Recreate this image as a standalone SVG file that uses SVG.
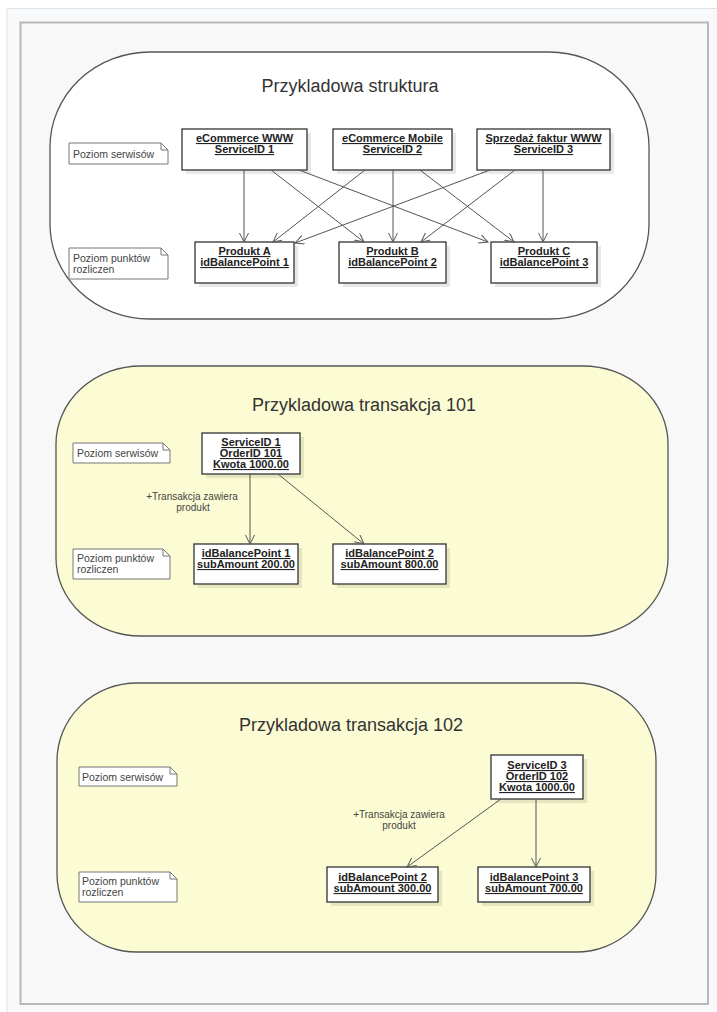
<svg xmlns="http://www.w3.org/2000/svg" width="717" height="1012" viewBox="0 0 717 1012">
<style>
.blk{stroke:#555;stroke-width:1.3}
.box{fill:#fff;stroke:#333;stroke-width:1.3}
.shd{fill:#000;opacity:0.09}
.bt{font-family:"Liberation Sans",Arial,sans-serif;font-size:11px;font-weight:bold;fill:#222;text-anchor:middle;text-decoration:underline}
.nt{font-family:"Liberation Sans",Arial,sans-serif;font-size:10.5px;fill:#444}
.note{fill:#fff;stroke:#777;stroke-width:1}
.fold{fill:none;stroke:#777;stroke-width:1}
.ttl{font-family:"Liberation Sans",Arial,sans-serif;font-size:18px;fill:#333;text-anchor:middle}
.lbl{font-family:"Liberation Sans",Arial,sans-serif;font-size:10px;fill:#444;text-anchor:middle}
.edge{stroke:#555;stroke-width:1;fill:none;marker-end:url(#arr)}
</style>
<defs>
<marker id="arr" markerUnits="userSpaceOnUse" markerWidth="12" markerHeight="12" refX="9" refY="4.5" orient="auto">
<path d="M0,0 L9,4.5 L0,9" fill="none" stroke="#555" stroke-width="1"/>
</marker>
</defs>
<rect x="0" y="0" width="717" height="1012" fill="#fff"/>
<rect x="7" y="8.5" width="712" height="1010" fill="#f8f9fa" stroke="#dfe3e8" stroke-width="1"/>
<rect x="20.5" y="22.5" width="687.5" height="981.5" fill="#f8f8f8" stroke="#b8b8b8" stroke-width="2"/>

<!-- Block 1 -->
<g id="block-struktura">
<rect class="blk" x="50" y="52" width="599" height="267" rx="100" ry="95" fill="#fff"/>
<text class="ttl" x="350" y="92" font-size="18.5">Przykladowa struktura</text>
</g>
<g id="note-serwisow-1">
<path class="note" d="M69,143 H161 L168,150 V164 H69 Z"/><path class="fold" d="M161,143 V150 H168"/>
<text class="nt" x="73" y="158">Poziom serwisów</text>
</g>
<g id="note-punktow-1">
<path class="note" d="M69,248 H161 L168,255 V279 H69 Z"/><path class="fold" d="M161,248 V255 H168"/>
<text class="nt" x="73" y="262">Poziom punktów</text>
<text class="nt" x="73" y="273">rozliczen</text>
</g>
<g id="svc1">
<rect class="shd" x="186" y="133" width="125" height="41"/>
<rect class="box" x="182" y="129" width="125" height="41"/>
<text class="bt" x="244.5" y="142">eCommerce WWW</text>
<text class="bt" x="244.5" y="153">ServiceID 1</text>
</g>
<g id="svc2">
<rect class="shd" x="337" y="133" width="119" height="41"/>
<rect class="box" x="333" y="129" width="119" height="41"/>
<text class="bt" x="392.5" y="142">eCommerce Mobile</text>
<text class="bt" x="392.5" y="153">ServiceID 2</text>
</g>
<g id="svc3">
<rect class="shd" x="481" y="133" width="133" height="41"/>
<rect class="box" x="477" y="129" width="133" height="41"/>
<text class="bt" x="543.5" y="142">Sprzedaż faktur WWW</text>
<text class="bt" x="543.5" y="153">ServiceID 3</text>
</g>
<g id="prodA">
<rect class="shd" x="199" y="246" width="99" height="41"/>
<rect class="box" x="195" y="242" width="99" height="41"/>
<text class="bt" x="244.5" y="255">Produkt A</text>
<text class="bt" x="244.5" y="266">idBalancePoint 1</text>
</g>
<g id="prodB">
<rect class="shd" x="343" y="246" width="107" height="41"/>
<rect class="box" x="339" y="242" width="107" height="41"/>
<text class="bt" x="392.5" y="255">Produkt B</text>
<text class="bt" x="392.5" y="266">idBalancePoint 2</text>
</g>
<g id="prodC">
<rect class="shd" x="495" y="246" width="106" height="41"/>
<rect class="box" x="491" y="242" width="106" height="41"/>
<text class="bt" x="544" y="255">Produkt C</text>
<text class="bt" x="544" y="266">idBalancePoint 3</text>
</g>

<!-- Block 2 -->
<g id="block-tx101">
<rect class="blk" x="56" y="366" width="612" height="270" rx="85" ry="78" fill="#fcfcd4"/>
<text class="ttl" x="364" y="411">Przykladowa transakcja 101</text>
</g>
<g id="note-serwisow-2">
<path class="note" d="M73,443 H163 L170,450 V463 H73 Z"/><path class="fold" d="M163,443 V450 H170"/>
<text class="nt" x="77" y="457">Poziom serwisów</text>
</g>
<g id="note-punktow-2">
<path class="note" d="M73,549 H163 L170,556 V579 H73 Z"/><path class="fold" d="M163,549 V556 H170"/>
<text class="nt" x="77" y="562">Poziom punktów</text>
<text class="nt" x="77" y="573">rozliczen</text>
</g>
<g id="tx101-svc">
<rect class="shd" x="206" y="437" width="98" height="41"/>
<rect class="box" x="202" y="433" width="98" height="41"/>
<text class="bt" x="251" y="446">ServiceID 1</text>
<text class="bt" x="251" y="457">OrderID 101</text>
<text class="bt" x="251" y="468">Kwota 1000.00</text>
</g>
<g id="tx101-bp1">
<rect class="shd" x="198" y="548" width="104" height="40"/>
<rect class="box" x="194" y="544" width="104" height="40"/>
<text class="bt" x="246" y="557">idBalancePoint 1</text>
<text class="bt" x="246" y="568">subAmount 200.00</text>
</g>
<g id="tx101-bp2">
<rect class="shd" x="337" y="548" width="113" height="40"/>
<rect class="box" x="333" y="544" width="113" height="40"/>
<text class="bt" x="389.5" y="557">idBalancePoint 2</text>
<text class="bt" x="389.5" y="568">subAmount 800.00</text>
</g>

<!-- Block 3 -->
<g id="block-tx102">
<rect class="blk" x="57" y="683" width="599" height="269" rx="80" ry="78" fill="#fcfcd4"/>
<text class="ttl" x="351" y="731">Przykladowa transakcja 102</text>
</g>
<g id="note-serwisow-3">
<path class="note" d="M79,767 H170 L177,774 V786 H79 Z"/><path class="fold" d="M170,767 V774 H177"/>
<text class="nt" x="82" y="781">Poziom serwisów</text>
</g>
<g id="note-punktow-3">
<path class="note" d="M79,872 H170 L177,879 V902 H79 Z"/><path class="fold" d="M170,872 V879 H177"/>
<text class="nt" x="82" y="885">Poziom punktów</text>
<text class="nt" x="82" y="896">rozliczen</text>
</g>
<g id="tx102-svc">
<rect class="shd" x="495" y="759" width="92" height="44"/>
<rect class="box" x="491" y="755" width="92" height="44"/>
<text class="bt" x="537" y="769">ServiceID 3</text>
<text class="bt" x="537" y="780">OrderID 102</text>
<text class="bt" x="537" y="791">Kwota 1000.00</text>
</g>
<g id="tx102-bp2">
<rect class="shd" x="331" y="871" width="111" height="35"/>
<rect class="box" x="327" y="867" width="111" height="35"/>
<text class="bt" x="382.5" y="881">idBalancePoint 2</text>
<text class="bt" x="382.5" y="892">subAmount 300.00</text>
</g>
<g id="tx102-bp3">
<rect class="shd" x="482" y="871" width="112" height="35"/>
<rect class="box" x="478" y="867" width="112" height="35"/>
<text class="bt" x="534" y="881">idBalancePoint 3</text>
<text class="bt" x="534" y="892">subAmount 700.00</text>
</g>

<g id="connectors">
<line class="edge" x1="244" y1="170" x2="244" y2="242"/>
<line class="edge" x1="271" y1="170" x2="364" y2="242"/>
<line class="edge" x1="299" y1="170" x2="488" y2="242"/>
<line class="edge" x1="365" y1="170" x2="273" y2="242"/>
<line class="edge" x1="393" y1="170" x2="393" y2="242"/>
<line class="edge" x1="420" y1="170" x2="514" y2="242"/>
<line class="edge" x1="490" y1="170" x2="295" y2="243"/>
<line class="edge" x1="515" y1="170" x2="421" y2="242"/>
<line class="edge" x1="543" y1="170" x2="543" y2="242"/>
<line class="edge" x1="250" y1="474" x2="250" y2="544"/>
<line class="edge" x1="278" y1="474" x2="364" y2="544"/>
<text class="lbl" x="192" y="500">+Transakcja zawiera</text>
<text class="lbl" x="193" y="511">produkt</text>
<line class="edge" x1="501" y1="799" x2="407" y2="867"/>
<line class="edge" x1="536" y1="799" x2="536" y2="867"/>
<text class="lbl" x="399" y="818">+Transakcja zawiera</text>
<text class="lbl" x="399" y="829">produkt</text>
</g>
</svg>
